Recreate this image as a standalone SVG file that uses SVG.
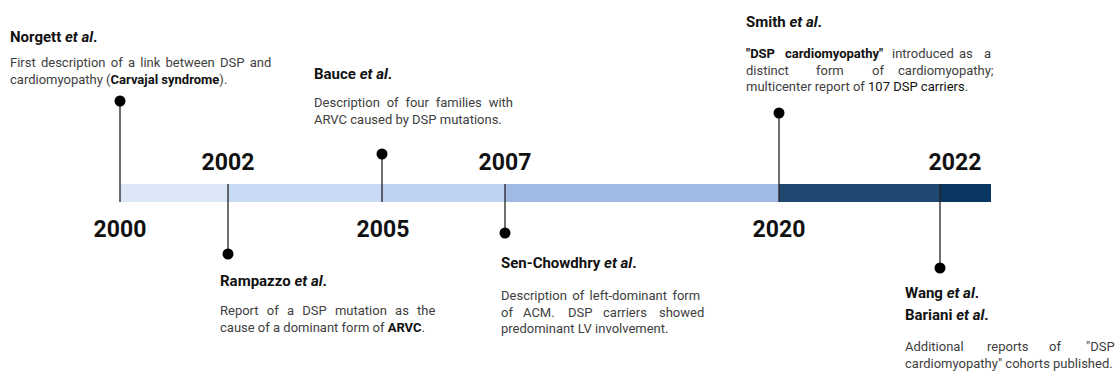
<svg xmlns="http://www.w3.org/2000/svg" width="1118" height="374" viewBox="0 0 1118 374">
<style>
.t{font-family:Roboto,"Liberation Sans",sans-serif;font-size:15px;font-weight:bold;fill:#111}
.b{font-family:Roboto,"Liberation Sans",sans-serif;font-size:13px;fill:#404040}
.k{font-weight:bold;fill:#111}
.y{font-family:Roboto,"Liberation Sans",sans-serif;font-size:23px;font-weight:bold;fill:#111;text-anchor:middle}
.ln{stroke:#222;stroke-width:1.3}
.dot{fill:#000}
</style>
<rect width="1118" height="374" fill="#fff"/>
<g id="bar">
<rect x="120" y="184" width="108" height="18" fill="#dce7f8"/>
<rect x="228" y="184" width="154" height="18" fill="#c9daf5"/>
<rect x="382" y="184" width="123" height="18" fill="#bfd1f0"/>
<rect x="505" y="184" width="274" height="18" fill="#a0bae3"/>
<rect x="779" y="184" width="161" height="18" fill="#1f4870"/>
<rect x="940" y="184" width="51" height="18" fill="#0a3662"/>
</g>
<g id="connectors">
<line class="ln" x1="120" y1="101" x2="120" y2="202"/>
<line class="ln" x1="228" y1="184" x2="228" y2="254"/>
<line class="ln" x1="382" y1="154" x2="382" y2="202"/>
<line class="ln" x1="505" y1="184" x2="505" y2="233"/>
<line class="ln" x1="779" y1="113" x2="779" y2="202"/>
<line class="ln" x1="940" y1="184" x2="940" y2="268"/>
<circle class="dot" cx="120" cy="101" r="5.5"/>
<circle class="dot" cx="228" cy="254" r="5.5"/>
<circle class="dot" cx="382" cy="154" r="5.5"/>
<circle class="dot" cx="505" cy="233" r="5.5"/>
<circle class="dot" cx="779" cy="113" r="5.5"/>
<circle class="dot" cx="940" cy="268" r="5.5"/>
</g>
<g id="years">
<text class="y" x="120" y="237">2000</text>
<text class="y" x="228" y="170">2002</text>
<text class="y" x="383" y="237">2005</text>
<text class="y" x="505" y="170">2007</text>
<text class="y" x="779" y="237">2020</text>
<text class="y" x="955" y="170">2022</text>
</g>
<g id="norgett">
<text class="t" x="10" y="42">Norgett <tspan font-style="italic">et al</tspan>.</text>
<text class="b" x="10" y="67" word-spacing="2">First description of a link between DSP and</text>
<text class="b" x="10" y="84">cardiomyopathy (<tspan class="k">Carvajal syndrome</tspan>).</text>
</g>
<g id="bauce">
<text class="t" x="314" y="79">Bauce <tspan font-style="italic">et al</tspan>.</text>
<text class="b" x="314" y="107" word-spacing="3.6">Description of four families with</text>
<text class="b" x="314" y="124">ARVC caused by DSP mutations.</text>
</g>
<g id="smith">
<text class="t" x="746" y="27">Smith <tspan font-style="italic">et al</tspan>.</text>
<text class="b" y="58"><tspan class="k" x="746">"DSP</tspan><tspan class="k" x="785">cardiomyopathy"</tspan><tspan x="892">introduced</tspan><tspan x="959">as</tspan><tspan x="984">a</tspan></text>
<text class="b" y="74.5"><tspan x="746">distinct</tspan><tspan x="816">form</tspan><tspan x="872">of</tspan><tspan x="898">cardiomyopathy;</tspan></text>
<text class="b" x="746" y="91">multicenter report of <tspan fill="#111">107 DSP carriers</tspan>.</text>
</g>
<g id="rampazzo">
<text class="t" x="220" y="286">Rampazzo <tspan font-style="italic">et al</tspan>.</text>
<text class="b" x="220" y="315" word-spacing="5">Report of a DSP mutation as the</text>
<text class="b" x="220" y="331.5">cause of a dominant form of <tspan class="k">ARVC</tspan>.</text>
</g>
<g id="senchowdhry">
<text class="t" x="501" y="268">Sen-Chowdhry <tspan font-style="italic">et al</tspan>.</text>
<text class="b" x="501" y="300" word-spacing="2.2">Description of left-dominant form</text>
<text class="b" y="316.5"><tspan x="501">of</tspan><tspan x="523">ACM.</tspan><tspan x="568">DSP</tspan><tspan x="603">carriers</tspan><tspan x="659">showed</tspan></text>
<text class="b" x="501" y="333">predominant LV involvement.</text>
</g>
<g id="wang">
<text class="t" x="905" y="298">Wang <tspan font-style="italic">et al</tspan>.</text>
<text class="t" x="905" y="320">Bariani <tspan font-style="italic">et al</tspan>.</text>
<text class="b" y="351"><tspan x="905">Additional</tspan><tspan x="987">reports</tspan><tspan x="1049">of</tspan><tspan x="1086">"DSP</tspan></text>
<text class="b" x="905" y="367.5">cardiomyopathy" cohorts published.</text>
</g>
</svg>
